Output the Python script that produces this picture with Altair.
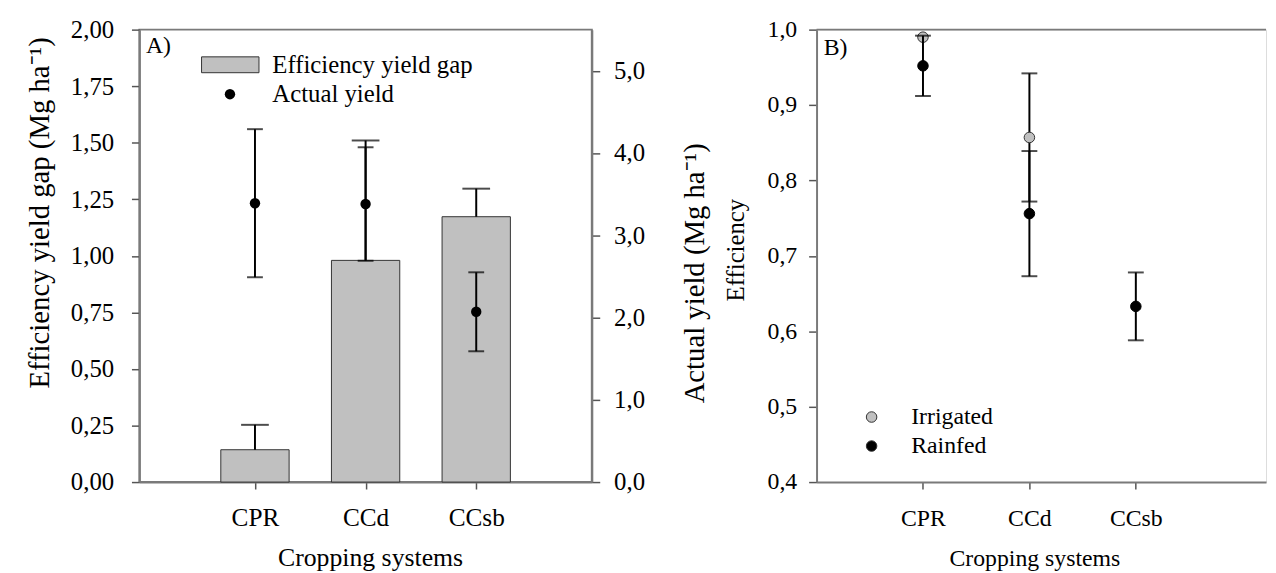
import altair as alt
import pandas as pd

# ---------------- data ----------------
categories = ["CPR", "CCd", "CCsb"]

# Panel A
gap = [0.143, 0.980, 1.173]          # Efficiency yield gap (Mg/ha)
gap_err = [0.110, 0.530, 0.124]
actual_yield = [3.39, 3.38, 2.07]    # Actual yield (Mg/ha)
actual_err = [0.90, 0.69, 0.48]

# Panel B
irrigated_systems = ["CPR", "CCd"]
irrigated = [0.990, 0.857]
irrigated_err = [0.0, 0.085]
rainfed_systems = ["CPR", "CCd", "CCsb"]
rainfed = [0.952, 0.756, 0.633]
rainfed_err = [0.040, 0.083, 0.045]

gap_ticks = [0.0, 0.25, 0.5, 0.75, 1.0, 1.25, 1.5, 1.75, 2.0]
yield_ticks = [0.0, 1.0, 2.0, 3.0, 4.0, 5.0]
eff_ticks = [0.4, 0.5, 0.6, 0.7, 0.8, 0.9, 1.0]

# ---------------- tables ----------------
pos = {c: i + 1 for i, c in enumerate(categories)}

dfA = pd.DataFrame({
    "system": categories,
    "pos": [pos[c] for c in categories],
    "gap": gap,
    "gap_hi": [g + e for g, e in zip(gap, gap_err)],
    "yield": actual_yield,
    "y_lo": [v - e for v, e in zip(actual_yield, actual_err)],
    "y_hi": [v + e for v, e in zip(actual_yield, actual_err)],
    "gap_label": ["Efficiency yield gap"] * len(categories),
    "yield_label": ["Actual yield"] * len(categories),
})

rowsB = []
for s, v, e in zip(irrigated_systems, irrigated, irrigated_err):
    rowsB.append({"system": s, "pos": pos[s], "series": "Irrigated", "value": v,
                  "err": e, "lo": v - e, "hi": v + e})
for s, v, e in zip(rainfed_systems, rainfed, rainfed_err):
    rowsB.append({"system": s, "pos": pos[s], "series": "Rainfed", "value": v,
                  "err": e, "lo": v - e, "hi": v + e})
dfB = pd.DataFrame(rowsB)

# ---------------- style ----------------
FONT = "Liberation Serif"
AX = "#7a7a7a"
A_W, A_H = 457, 457
B_W, B_H = 454, 457
GAP = 227
STEP_B = 107.5
B_OFF = A_W + GAP   # x offset of panel B origin from panel A origin (legend coords)

cat_expr = "[" + ",".join("'" + c + "'" for c in categories) + "][datum.value - 1]"

common_axis = dict(
    grid=False, domainColor=AX, domainWidth=2, tickColor="#555555", tickWidth=1.5,
    labelFont=FONT, labelColor="black", titleFont=FONT, titleColor="black",
    titleFontWeight="normal",
)

def x_axis(title_x, title_size, label_size):
    return alt.Axis(values=[1, 2, 3], labelExpr=cat_expr, title="Cropping systems",
                    tickSize=7, labelPadding=37, labelBaseline="alphabetic",
                    labelFontSize=label_size, titleFontSize=title_size, titleX=title_x,
                    titleY=84, titleBaseline="alphabetic", titleAlign="center",
                    **common_axis)

dummy = alt.Data(values=[{}])

def panel_label(txt, dx, dy):
    return alt.Chart(dummy).mark_text(align="left", baseline="alphabetic", font=FONT,
                                      fontSize=24, color="black").encode(
        x=alt.value(dx), y=alt.value(dy), text=alt.value(txt))

# ---------------- panel A ----------------
xA = alt.X("pos:Q", scale=alt.Scale(domain=[0, 4], nice=False, zero=False),
           axis=x_axis(233, 26, 25.5))
yGap = alt.Y("gap:Q", scale=alt.Scale(domain=[0, 2], nice=False),
             axis=alt.Axis(values=gap_ticks,
                           labelExpr="replace(format(datum.value, '.2f'), '.', ',')",
                           tickSize=8, labelPadding=18, labelFontSize=25,
                           labelBaseline="middle",
                           title="Efficiency yield gap (Mg ha\u207b\u00b9)",
                           titleFontSize=29, titleAngle=270, titleAlign="left",
                           titleBaseline="middle", titleX=-101, titleY=362,
                           **common_axis))

baseA = alt.Chart(dfA)

bars = baseA.mark_bar(size=69, stroke="#333333", strokeWidth=1).encode(
    x=xA, y=yGap,
    color=alt.Color("gap_label:N", scale=alt.Scale(range=["#C0C0C0"]),
                    legend=alt.Legend(title=None, orient="none", legendX=62.3, legendY=6,
                                      symbolType="M-1,-0.276L1,-0.276L1,0.276L-1,0.276Z",
                                      symbolSize=3364, symbolStrokeColor="#333333",
                                      symbolStrokeWidth=1, labelFont=FONT,
                                      labelFontSize=25, labelColor="black",
                                      labelOffset=13, labelLimit=500, padding=0)),
)
bar_err = baseA.mark_rule(color="black", strokeWidth=2).encode(
    x="pos:Q", y="gap:Q", y2="gap_hi:Q")
bar_cap = baseA.mark_tick(color="black", orient="horizontal", size=28, thickness=2).encode(
    x="pos:Q", y="gap_hi:Q")
left_group = alt.layer(bars, bar_err, bar_cap)

yYield = alt.Y("yield:Q", scale=alt.Scale(domain=[0, 5.5], nice=False),
               axis=alt.Axis(orient="right", values=yield_ticks,
                             labelExpr="replace(format(datum.value, '.1f'), '.', ',')",
                             tickSize=8, labelPadding=14, labelFontSize=25,
                             labelBaseline="middle",
                             title="Actual yield (Mg ha\u207b\u00b9)",
                             titleFontSize=29, titleAngle=270, titleAlign="left",
                             titleBaseline="middle", titleX=104, titleY=377,
                             **common_axis))
y_err = baseA.mark_rule(color="black", strokeWidth=2).encode(
    x="pos:Q", y=yYield, y2="y_hi:Q")
y_err2 = baseA.mark_rule(color="black", strokeWidth=2).encode(
    x="pos:Q", y="y_lo:Q", y2="yield:Q")
y_cap_lo = baseA.mark_tick(color="black", orient="horizontal", size=16, thickness=2).encode(
    x="pos:Q", y="y_lo:Q")
y_cap_hi = baseA.mark_tick(color="black", orient="horizontal", size=16, thickness=2).encode(
    x="pos:Q", y="y_hi:Q")
pts = baseA.mark_point(filled=True, size=110, opacity=1).encode(
    x="pos:Q", y="yield:Q",
    color=alt.Color("yield_label:N", scale=alt.Scale(range=["black"]),
                    legend=alt.Legend(title=None, orient="none", legendX=79, legendY=52.7,
                                      symbolType="circle", symbolSize=110,
                                      symbolStrokeWidth=0, symbolOpacity=1,
                                      labelFont=FONT, labelFontSize=25,
                                      labelColor="black", labelOffset=30.3,
                                      labelLimit=500, padding=0)),
)
right_group = alt.layer(y_err, y_err2, y_cap_lo, y_cap_hi, pts)

panelA = alt.layer(left_group, right_group, panel_label("A)", 6.6, 24)).resolve_scale(
    y="independent", color="independent").resolve_legend(color="independent").properties(
    width=A_W, height=A_H,
    view=alt.ViewBackground(stroke=AX, strokeWidth=2),
)

# ---------------- panel B ----------------
xB = alt.X("pos:Q", scale=alt.Scale(domain=[0, B_W / STEP_B], nice=False, zero=False),
           axis=x_axis(220, 24, 24))
yEff = alt.Y("value:Q", scale=alt.Scale(domain=[0.4, 1.0], nice=False, zero=False),
             axis=alt.Axis(values=eff_ticks,
                           labelExpr="replace(format(datum.value, '.1f'), '.', ',')",
                           tickSize=8, labelPadding=12, labelFontSize=24,
                           labelBaseline="middle", title="Efficiency",
                           titleFontSize=25, titleAngle=270, titleAlign="left",
                           titleBaseline="middle", titleX=-82, titleY=274,
                           **common_axis))

baseB = alt.Chart(dfB)
irr = baseB.transform_filter(alt.datum.series == "Irrigated")
rain = baseB.transform_filter(alt.datum.series == "Rainfed")

def err_layers(src):
    s = src.transform_filter(alt.datum.err > 0)
    return [
        s.mark_rule(color="black", strokeWidth=2).encode(x=xB, y=yEff, y2="hi:Q"),
        s.mark_rule(color="black", strokeWidth=2).encode(x="pos:Q", y="lo:Q", y2="value:Q"),
        s.mark_tick(color="black", orient="horizontal", size=16, thickness=2).encode(
            x="pos:Q", y="lo:Q"),
        s.mark_tick(color="black", orient="horizontal", size=16, thickness=2).encode(
            x="pos:Q", y="hi:Q"),
    ]

colorB = alt.Color("series:N",
                   scale=alt.Scale(domain=["Irrigated", "Rainfed"],
                                   range=["#C0C0C0", "black"]),
                   legend=alt.Legend(title=None, orient="none",
                                     legendX=B_OFF + 43.6, legendY=379.3,
                                     symbolType="circle", symbolSize=113,
                                     symbolStrokeColor="#333333", symbolStrokeWidth=1,
                                     symbolOpacity=1, labelFont=FONT, labelFontSize=24,
                                     labelColor="black", labelOffset=28, rowPadding=5.3,
                                     labelLimit=500, padding=0))

irr_pts = irr.mark_point(filled=True, size=113, stroke="#333333", strokeWidth=1,
                         opacity=1).encode(x="pos:Q", y="value:Q", color=colorB)
rain_pts = rain.mark_point(filled=True, size=113, stroke="black", strokeWidth=1,
                           opacity=1).encode(x="pos:Q", y="value:Q", color=colorB)

top_line = alt.Chart(dummy).mark_rule(color=AX, strokeWidth=2).encode(
    x=alt.value(0), x2=alt.value(B_W), y=alt.value(0))

panelB = alt.layer(*err_layers(irr), irr_pts, *err_layers(rain), rain_pts, top_line,
                   panel_label("B)", 7.3, 25.3)).properties(width=B_W, height=B_H)

chart = alt.hconcat(panelA, panelB, spacing=GAP, bounds="flush").properties(
    padding={"left": 15.7, "top": 6, "right": 0, "bottom": 0},
    background="white",
).configure_view(stroke=None).configure(font=FONT)

chart.save("out.html", embed_options={"renderer": "svg", "actions": False})
